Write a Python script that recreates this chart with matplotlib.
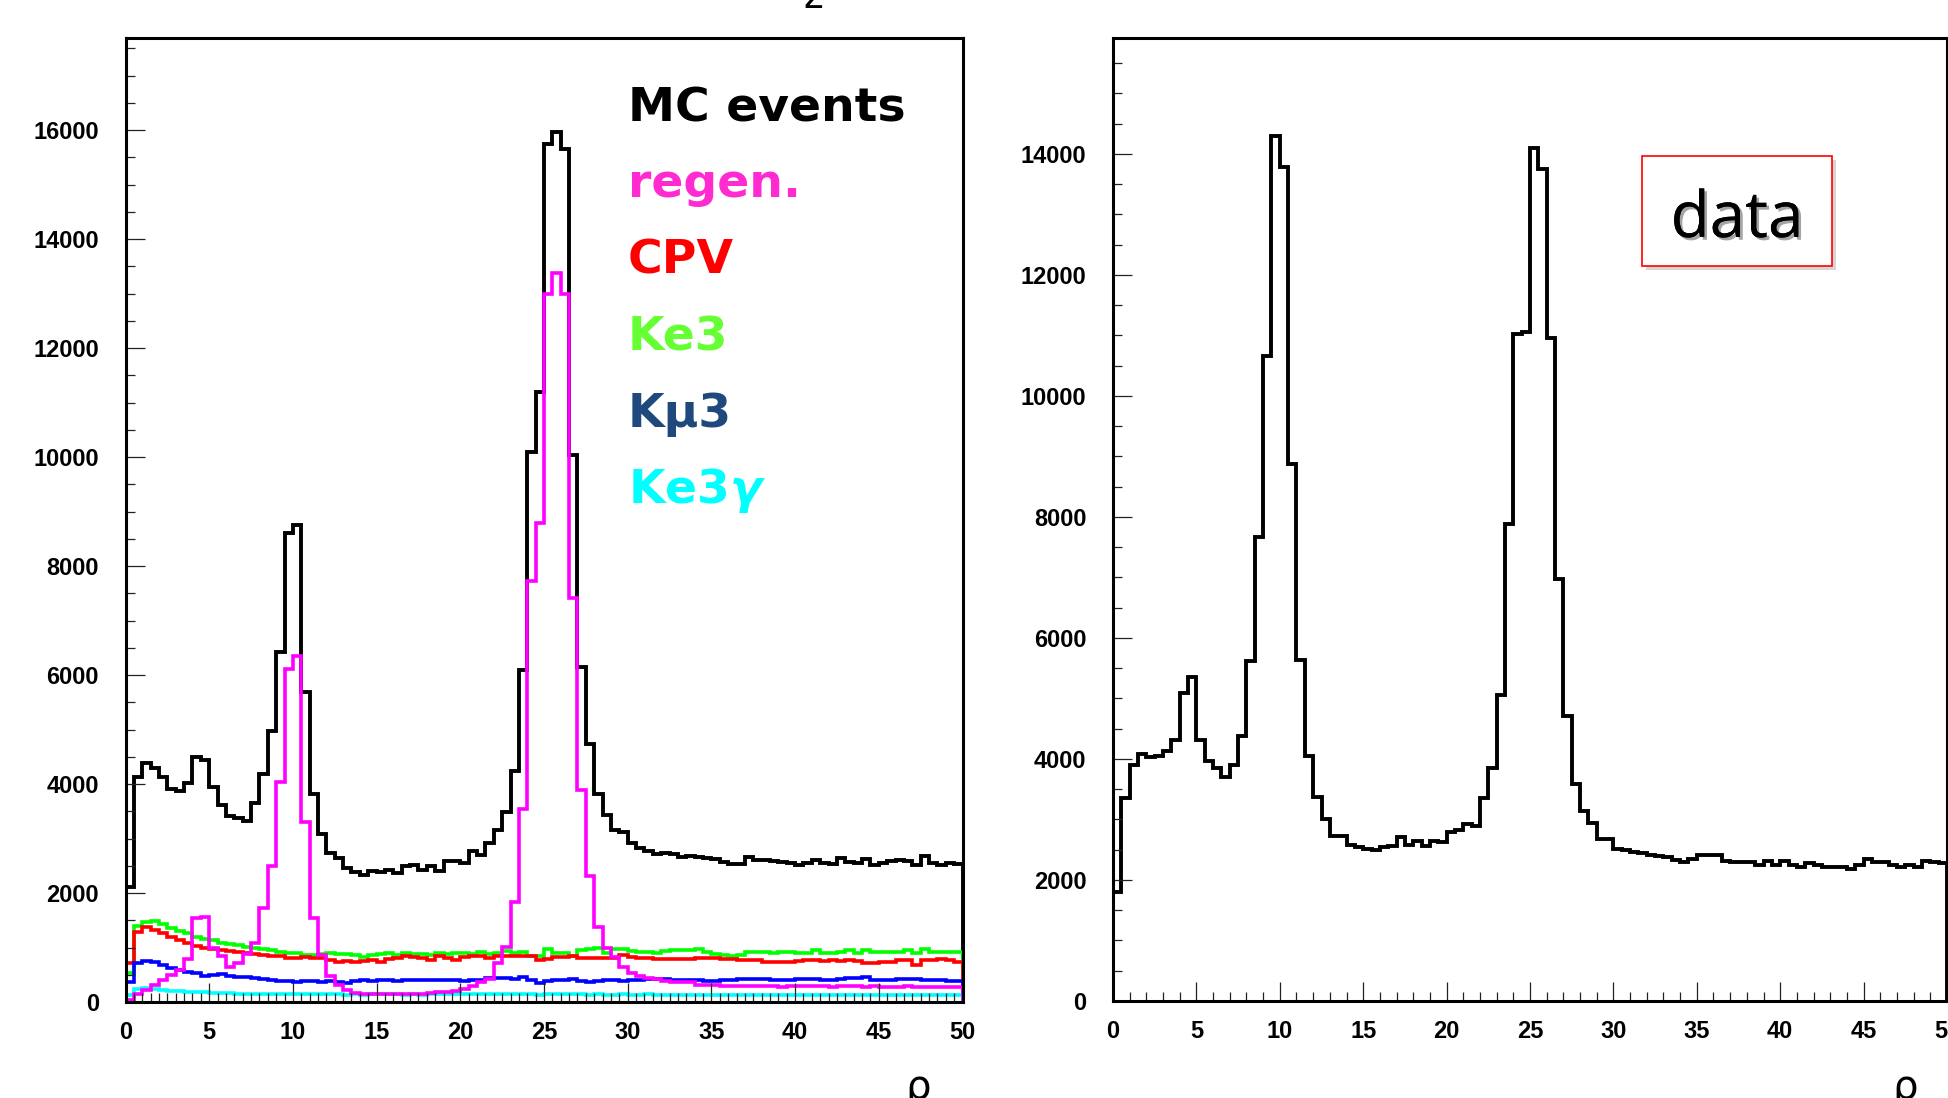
import numpy as np
import matplotlib
matplotlib.use('Agg')
import matplotlib.pyplot as plt
from matplotlib.ticker import MultipleLocator
from matplotlib.patches import Rectangle
import matplotlib.patheffects as pe

plt.rcParams['font.family'] = ['Liberation Sans', 'DejaVu Sans']
plt.rcParams['font.weight'] = 'bold'

# 100 bins from 0 to 50
edges = np.linspace(0, 50, 101)

# ---------------- left panel: MC events (total + components)
mc_total = [2110, 4130, 4390, 4300, 4120, 3910, 3880, 4020, 4500, 4440,
            3940, 3620, 3415, 3370, 3320, 3645, 4180, 4970, 6415, 8610,
            8760, 5680, 3810, 3075, 2730, 2640, 2455, 2390, 2330, 2400,
            2390, 2420, 2360, 2495, 2515, 2420, 2495, 2400, 2590, 2590,
            2545, 2765, 2690, 2920, 3165, 3480, 4240, 6090, 10100, 11200,
            15750, 15970, 15650, 10030, 6150, 4740, 3810, 3440, 3160, 3120,
            2920, 2820, 2765, 2710, 2735, 2710, 2660, 2680, 2660, 2640,
            2630, 2575, 2525, 2525, 2660, 2610, 2610, 2585, 2575, 2555,
            2505, 2555, 2610, 2555, 2535, 2640, 2575, 2555, 2630, 2505,
            2555, 2585, 2610, 2585, 2505, 2680, 2555, 2505, 2555, 2525]

regen = [40, 140, 215, 305, 400, 490, 590, 790, 1540, 1565,
         990, 835, 650, 710, 880, 1080, 1720, 2490, 4030, 6110,
         6345, 3310, 1550, 860, 480, 315, 215, 170, 150, 145,
         140, 140, 140, 140, 145, 150, 160, 175, 190, 205,
         240, 300, 360, 420, 710, 1010, 1840, 3550, 7725, 8790,
         13000, 13380, 13000, 7410, 3890, 2320, 1380, 1000, 825, 650,
         530, 480, 440, 430, 380, 375, 370, 365, 320, 310,
         310, 300, 290, 290, 285, 285, 290, 285, 280, 285,
         290, 295, 290, 285, 280, 285, 290, 285, 280, 285,
         280, 275, 280, 285, 280, 275, 280, 275, 270, 280]

cpv = [710, 1290, 1370, 1320, 1260, 1190, 1140, 1080, 1020, 985,
       970, 955, 935, 925, 895, 880, 865, 845, 835, 805,
       805, 820, 805, 800, 770, 740, 745, 740, 760, 770,
       740, 780, 800, 835, 820, 800, 770, 835, 800, 770,
       820, 845, 835, 800, 835, 845, 845, 835, 845, 770,
       780, 820, 820, 845, 805, 805, 805, 805, 800, 865,
       820, 805, 805, 790, 790, 790, 790, 790, 805, 805,
       800, 790, 790, 775, 772, 770, 742, 742, 740, 740,
       760, 770, 772, 760, 772, 750, 772, 760, 711, 711,
       741, 741, 772, 772, 680, 772, 772, 780, 772, 741]

ke3 = [530, 1400, 1460, 1490, 1440, 1360, 1300, 1260, 1190, 1150,
       1130, 1090, 1065, 1050, 1005, 985, 970, 955, 925, 905,
       895, 865, 870, 880, 900, 875, 880, 860, 830, 855,
       880, 895, 870, 900, 880, 890, 870, 900, 880, 900,
       905, 890, 915, 890, 905, 930, 905, 920, 835, 835,
       975, 895, 895, 835, 955, 970, 985, 905, 970, 970,
       945, 925, 925, 895, 930, 955, 955, 955, 970, 910,
       880, 860, 835, 865, 925, 910, 910, 895, 925, 925,
       895, 895, 950, 895, 895, 925, 955, 895, 955, 910,
       910, 925, 925, 955, 895, 980, 925, 925, 925, 925]

kmu3 = [375, 710, 760, 740, 680, 620, 590, 555, 525, 480,
        495, 515, 480, 465, 455, 435, 415, 405, 390, 385,
        375, 390, 385, 375, 390, 375, 355, 390, 405, 390,
        405, 400, 390, 405, 400, 395, 405, 410, 400, 405,
        390, 400, 410, 435, 435, 435, 420, 455, 405, 345,
        385, 405, 400, 415, 390, 375, 390, 405, 405, 390,
        400, 410, 420, 415, 420, 405, 400, 400, 395, 390,
        385, 395, 410, 420, 430, 420, 415, 400, 395, 405,
        420, 425, 420, 400, 405, 420, 435, 445, 465, 400,
        405, 410, 420, 430, 420, 405, 400, 395, 390, 380]

ke3g = [130, 235, 250, 235, 220, 210, 205, 190, 190, 175,
        170, 160, 160, 155, 155, 150, 150, 150, 145, 150,
        145, 145, 140, 140, 145, 140, 135, 140, 135, 140,
        140, 145, 140, 135, 140, 135, 140, 145, 140, 145,
        150, 155, 150, 150, 155, 150, 145, 150, 140, 135,
        145, 150, 140, 145, 140, 135, 140, 130, 135, 140,
        135, 130, 140, 135, 130, 125, 130, 135, 125, 130,
        135, 130, 125, 130, 135, 130, 125, 130, 135, 130,
        130, 125, 130, 135, 130, 125, 130, 135, 130, 125,
        130, 125, 130, 135, 130, 125, 130, 130, 125, 130]

# ---------------- right panel: data
data = [1800, 3350, 3900, 4080, 4035, 4045, 4140, 4320, 5095, 5350,
        4320, 3970, 3855, 3700, 3900, 4380, 5620, 7670, 10665, 14300,
        13780, 8880, 5640, 4045, 3370, 3015, 2730, 2730, 2585, 2540,
        2520, 2490, 2540, 2555, 2710, 2585, 2640, 2555, 2650, 2630,
        2795, 2825, 2920, 2890, 3350, 3845, 5065, 7890, 11030, 11050,
        14100, 13750, 10955, 6975, 4705, 3590, 3140, 2950, 2680, 2680,
        2510, 2490, 2470, 2440, 2415, 2395, 2375, 2330, 2300, 2347,
        2414, 2414, 2414, 2318, 2300, 2300, 2300, 2251, 2318, 2251,
        2318, 2251, 2223, 2280, 2251, 2223, 2223, 2223, 2175, 2251,
        2347, 2299, 2299, 2251, 2223, 2251, 2223, 2318, 2299, 2280]

legend_labels = ['MC events', 'regen.', 'CPV', 'Ke3', 'K\u03bc3', 'Ke3$\\gamma$']
legend_colors = ['black', '#ff2bd0', '#ff0000', '#66ff33', '#1f497d', '#00ffff']

W, H = 1948, 1098
fig = plt.figure(figsize=(W / 100, H / 100), dpi=100)

ax1 = fig.add_axes([125.5 / W, 96 / H, 837 / W, 964 / H])
ax2 = fig.add_axes([1113 / W, 97 / H, 834 / W, 963 / H])


def style(ax, ymax, xminor):
    ax.set_xlim(0, 50)
    ax.set_ylim(0, ymax)
    ax.xaxis.set_major_locator(MultipleLocator(5))
    ax.xaxis.set_minor_locator(MultipleLocator(xminor))
    ax.yaxis.set_major_locator(MultipleLocator(2000))
    ax.yaxis.set_minor_locator(MultipleLocator(500))
    ax.tick_params(which='both', direction='in', top=False, right=False,
                   width=0.9, color='#222222', labelsize=17)
    ax.tick_params(which='major', length=13.5)
    ax.tick_params(which='minor', length=6.5)
    ax.tick_params(axis='x', pad=14)
    ax.tick_params(axis='y', pad=19)
    for s in ax.spines.values():
        s.set_linewidth(2.2)


# MC histograms
ax1.stairs(mc_total, edges, baseline=0, color='black', lw=2.8)
ax1.stairs(ke3, edges, baseline=0, color='#00ff00', lw=2.6)
ax1.stairs(cpv, edges, baseline=0, color='#ff0000', lw=2.6)
ax1.stairs(kmu3, edges, baseline=0, color='#0000ff', lw=2.6)
ax1.stairs(ke3g, edges, baseline=0, color='#00ffff', lw=2.6)
ax1.stairs(regen, edges, baseline=0, color='#ff00ff', lw=2.6)
style(ax1, 17690, 0.5)

# data histogram
ax2.stairs(data, edges, baseline=0, color='black', lw=2.8)
style(ax2, 15917, 1)

# legend written as coloured words
for i, (lab, col) in enumerate(zip(legend_labels, legend_colors)):
    fig.text(628 / W, 1 - (121 + 76.4 * i) / H, lab, color=col,
             family='DejaVu Sans', weight='bold', fontsize=34,
             ha='left', va='baseline')

# "data" box
box = Rectangle((1642 / W, 1 - 266 / H), 190 / W, 110 / H, transform=fig.transFigure,
                fc='white', ec='red', lw=1.2,
                path_effects=[pe.withSimplePatchShadow(offset=(3, -3), shadow_rgbFace='0.6', alpha=0.4)])
fig.add_artist(box)
fig.text(1737 / W, 1 - 237 / H, 'data', family='Open Sans', weight='normal', fontsize=46,
         ha='center', va='baseline',
         path_effects=[pe.withSimplePatchShadow(offset=(2, -2), shadow_rgbFace='0.3', alpha=0.5), pe.Normal()])

# clipped axis titles at the picture edges
fig.text(918 / W, -1 / H, '\u03c1', family='DejaVu Sans', weight='normal', fontsize=29,
         ha='center', va='baseline')
fig.text(1905 / W, -1 / H, '\u03c1', family='DejaVu Sans', weight='normal', fontsize=29,
         ha='center', va='baseline')
fig.text(813 / W, 1 - 8 / H, 'z', family='DejaVu Sans', weight='normal', fontsize=27,
         ha='center', va='baseline')

fig.savefig('out.png', dpi=100)
